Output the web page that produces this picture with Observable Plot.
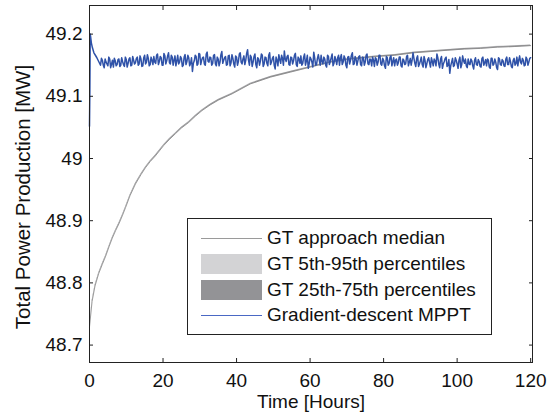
<!DOCTYPE html>
<html><head><meta charset="utf-8">
<script src="https://cdn.jsdelivr.net/npm/d3@7"></script>
<script src="https://cdn.jsdelivr.net/npm/@observablehq/plot@0.6"></script>
<style>
body{margin:0;background:#fff;}
#wrap{position:relative;width:550px;height:419px;font-family:"Liberation Sans",Arial,sans-serif;}
#legend{position:absolute;left:187px;top:218px;width:305px;height:117px;border:1px solid #222;background:#fff;box-sizing:border-box;}
.sw{position:absolute;left:13px;width:61px;}
.lb{position:absolute;left:79px;font-size:19px;white-space:nowrap;line-height:24px;height:24px;color:#111;}
</style></head><body><div id="wrap"></div>
<script>
// Tick values
const xTicks = [0, 20, 40, 60, 80, 100, 120];
const yTicks = [48.7, 48.8, 48.9, 49, 49.1, 49.2];

// GT approach median
const medianT = [0, 0.7, 1.5, 2.5, 3.5, 4.4, 5.3, 6.2, 7.1, 8.0, 9.0, 9.8, 11, 12.5, 14, 15.2, 16.5, 17.9, 20.2, 21.8, 23.4, 25, 27, 28.8, 30.6, 32.8, 35.1, 38.8, 43.8, 49.3, 54.7, 60.1, 65.6, 71, 78.3, 83, 88.2, 92.8, 97.3, 102, 106.4, 111, 115.5, 120];
const medianV = [48.729, 48.770, 48.795, 48.815, 48.830, 48.843, 48.858, 48.872, 48.884, 48.895, 48.909, 48.921, 48.940, 48.959, 48.974, 48.985, 48.995, 49.004, 49.021, 49.031, 49.040, 49.049, 49.058, 49.068, 49.077, 49.086, 49.094, 49.104, 49.120, 49.131, 49.139, 49.147, 49.155, 49.160, 49.164, 49.166, 49.170, 49.172, 49.174, 49.176, 49.177, 49.179, 49.180, 49.1815];

// GT percentile bands (same times as the median)
const p5  = [48.7276, 48.7686, 48.7936, 48.8136, 48.8286, 48.8416, 48.8566, 48.8706, 48.8826, 48.8936, 48.9076, 48.9196, 48.9386, 48.9576, 48.9726, 48.9836, 48.9936, 49.0026, 49.0196, 49.0296, 49.0386, 49.0476, 49.0566, 49.0666, 49.0756, 49.0846, 49.0926, 49.1026, 49.1186, 49.1296, 49.1376, 49.1456, 49.1536, 49.1586, 49.1626, 49.1646, 49.1686, 49.1706, 49.1726, 49.1746, 49.1756, 49.1776, 49.1786, 49.1801];
const p95 = [48.7304, 48.7714, 48.7964, 48.8164, 48.8314, 48.8444, 48.8594, 48.8734, 48.8854, 48.8964, 48.9104, 48.9224, 48.9414, 48.9604, 48.9754, 48.9864, 48.9964, 49.0054, 49.0224, 49.0324, 49.0414, 49.0504, 49.0594, 49.0694, 49.0784, 49.0874, 49.0954, 49.1054, 49.1214, 49.1324, 49.1404, 49.1484, 49.1564, 49.1614, 49.1654, 49.1674, 49.1714, 49.1734, 49.1754, 49.1774, 49.1784, 49.1804, 49.1814, 49.1829];
const p25 = [48.7283, 48.7693, 48.7943, 48.8143, 48.8293, 48.8423, 48.8573, 48.8713, 48.8833, 48.8943, 48.9083, 48.9203, 48.9393, 48.9583, 48.9733, 48.9843, 48.9943, 49.0033, 49.0203, 49.0303, 49.0393, 49.0483, 49.0573, 49.0673, 49.0763, 49.0853, 49.0933, 49.1033, 49.1193, 49.1303, 49.1383, 49.1463, 49.1543, 49.1593, 49.1633, 49.1653, 49.1693, 49.1713, 49.1733, 49.1753, 49.1763, 49.1783, 49.1793, 49.1808];
const p75 = [48.7297, 48.7707, 48.7957, 48.8157, 48.8307, 48.8437, 48.8587, 48.8727, 48.8847, 48.8957, 48.9097, 48.9217, 48.9407, 48.9597, 48.9747, 48.9857, 48.9957, 49.0047, 49.0217, 49.0317, 49.0407, 49.0497, 49.0587, 49.0687, 49.0777, 49.0867, 49.0947, 49.1047, 49.1207, 49.1317, 49.1397, 49.1477, 49.1557, 49.1607, 49.1647, 49.1667, 49.1707, 49.1727, 49.1747, 49.1767, 49.1777, 49.1797, 49.1807, 49.1822];

// Gradient-descent MPPT: start-up transient
const mpptStartT = [0, 0.1, 0.2, 0.3, 0.5, 0.8, 1.2, 1.6, 2.0, 2.5];
const mpptStartV = [49.052, 49.110, 49.200, 49.196, 49.186, 49.178, 49.170, 49.166, 49.162, 49.156];
// samples on the hour and half hour from t = 3 h
const mpptV = [
  49.150,49.158,49.146,49.155,49.149,49.160,49.152,49.147,49.157,49.151,
  49.160,49.150,49.156,49.148,49.159,49.153,49.162,49.150,49.158,49.154,
  49.163,49.152,49.160,49.149,49.166,49.155,49.161,49.151,49.158,49.164,
  49.153,49.168,49.156,49.162,49.150,49.165,49.157,49.170,49.152,49.163,
  49.158,49.149,49.166,49.155,49.161,49.150,49.167,49.156,49.162,49.153,
  49.140,49.157,49.164,49.152,49.168,49.158,49.163,49.150,49.171,49.155,
  49.162,49.153,49.167,49.149,49.160,49.155,49.172,49.158,49.164,49.151,
  49.166,49.154,49.161,49.147,49.163,49.156,49.170,49.152,49.165,49.158,
  49.175,49.150,49.163,49.155,49.168,49.146,49.160,49.157,49.166,49.152,
  49.162,49.149,49.170,49.155,49.164,49.144,49.158,49.167,49.153,49.161,
  49.173,49.156,49.166,49.150,49.162,49.157,49.169,49.148,49.160,49.165,
  49.153,49.168,49.157,49.145,49.163,49.155,49.171,49.150,49.161,49.158,
  49.166,49.152,49.160,49.147,49.164,49.156,49.168,49.153,49.159,49.162,
  49.150,49.167,49.155,49.161,49.146,49.164,49.158,49.170,49.152,49.160,
  49.157,49.165,49.149,49.162,49.155,49.168,49.151,49.159,49.163,49.148,
  49.160,49.155,49.166,49.150,49.158,49.145,49.162,49.153,49.165,49.156,
  49.149,49.160,49.154,49.163,49.147,49.158,49.152,49.166,49.155,49.150,
  49.170,49.153,49.161,49.148,49.157,49.151,49.164,49.146,49.159,49.154,
  49.162,49.149,49.157,49.168,49.152,49.160,49.145,49.156,49.163,49.150,
  49.137,49.155,49.148,49.162,49.152,49.158,49.146,49.165,49.153,49.149,
  49.160,49.151,49.157,49.144,49.162,49.150,49.156,49.147,49.163,49.154,
  49.149,49.158,49.145,49.161,49.152,49.155,49.143,49.160,49.150,49.157,
  49.148,49.163,49.151,49.156,49.146,49.161,49.153,49.149,49.165,49.152,
  49.158,49.150,49.160,49.155,49.162
];
// samples at quarter past / quarter to, from t = 3.25 h
const mpptMidV = [
  49.161,49.150,49.160,49.152,49.163,49.146,49.158,49.161,49.149,49.159,
  49.148,49.162,49.151,49.163,49.147,49.160,49.149,49.164,49.152,49.161,
  49.150,49.165,49.148,49.162,49.152,49.167,49.149,49.163,49.151,49.155,
  49.166,49.151,49.164,49.150,49.169,49.152,49.165,49.154,49.166,49.150,
  49.165,49.157,49.152,49.164,49.148,49.163,49.151,49.166,49.149,49.162,
  49.153,49.166,49.150,49.169,49.151,49.162,49.152,49.168,49.156,49.163,
  49.150,49.166,49.152,49.163,49.149,49.167,49.153,49.162,49.150,49.165,
  49.149,49.167,49.152,49.165,49.150,49.168,49.155,49.160,49.151,49.169,
  49.158,49.166,49.148,49.164,49.151,49.162,49.150,49.168,49.148,49.163,
  49.153,49.166,49.151,49.161,49.150,49.163,49.149,49.159,49.166,49.150,
  49.160,49.164,49.151,49.163,49.152,49.166,49.151,49.163,49.153,49.150,
  49.163,49.150,49.166,49.152,49.160,49.147,49.162,49.151,49.167,49.150,
  49.156,49.163,49.150,49.166,49.151,49.162,49.149,49.164,49.151,49.166,
  49.162,49.151,49.165,49.150,49.163,49.152,49.166,49.151,49.164,49.150,
  49.164,49.151,49.163,49.150,49.166,49.152,49.160,49.149,49.158,49.162,
  49.150,49.166,49.152,49.161,49.149,49.164,49.150,49.163,49.149,49.162,
  49.158,49.150,49.163,49.149,49.160,49.151,49.164,49.149,49.161,49.158,
  49.161,49.148,49.165,49.152,49.163,49.147,49.158,49.152,49.162,49.147,
  49.156,49.160,49.149,49.162,49.146,49.164,49.152,49.161,49.148,49.159,
  49.149,49.161,49.150,49.158,49.145,49.163,49.151,49.157,49.160,49.146,
  49.152,49.160,49.149,49.158,49.151,49.159,49.148,49.161,49.150,49.159,
  49.160,49.147,49.161,49.150,49.160,49.146,49.162,49.151,49.159,49.149,
  49.160,49.151,49.162,49.148,49.158,49.150,49.163,49.158,49.155,49.161,
  49.149,49.163,49.150,49.161
];

// Legend
const legendLabels = ["GT approach median", "GT 5th-95th percentiles", "GT 25th-75th percentiles", "Gradient-descent MPPT"];
const legendColors = ["#9a9a9a", "#d3d3d5", "#939396", "#4a68c4"];
const legendKinds = ["line", "rect", "rect", "line"];

const median = medianT.map((t, i) => ({t, v: medianV[i]}));
const bands = medianT.map((t, i) => ({t, p5: p5[i], p95: p95[i], p25: p25[i], p75: p75[i]}));
const steady = mpptV.map((v, i) => ({t: 3 + i * 0.5, v}))
  .concat(mpptMidV.map((v, i) => ({t: 3.25 + i * 0.5, v})));
steady.sort((a, b) => a.t - b.t);
const mppt = mpptStartT.map((t, i) => ({t, v: mpptStartV[i]})).concat(steady);

const blank = () => "";
const plot = Plot.plot({
  width: 550, height: 419,
  marginLeft: 89, marginRight: 18, marginTop: 5, marginBottom: 57,
  style: {fontFamily: "'Liberation Sans', Arial, sans-serif", fontSize: "19px", color: "#111", background: "white", overflow: "visible"},
  x: {domain: [0, 120.5]},
  y: {domain: [48.672, 49.246]},
  marks: [
    Plot.areaY(bands, {x: "t", y1: "p5", y2: "p95", fill: legendColors[1]}),
    Plot.areaY(bands, {x: "t", y1: "p25", y2: "p75", fill: legendColors[2]}),
    Plot.line(median, {x: "t", y: "v", stroke: "#808080", strokeWidth: 0.8}),
    Plot.line(mppt, {x: "t", y: "v", stroke: "#2f52a8", strokeWidth: 1.5}),
    Plot.axisX(xTicks, {tickSize: 0, tickPadding: 11, label: null, fontSize: 19}),
    Plot.axisX(xTicks, {tickSize: -4, tickFormat: blank, label: null, stroke: "#222"}),
    Plot.axisX(xTicks, {anchor: "top", tickSize: -4, tickFormat: blank, label: null, stroke: "#222"}),
    Plot.axisY(yTicks, {tickSize: 0, tickPadding: 7, label: null, fontSize: 19, tickFormat: d3.format("")}),
    Plot.axisY(yTicks, {tickSize: -4, tickFormat: blank, label: null, stroke: "#222"}),
    Plot.axisY(yTicks, {anchor: "right", tickSize: -4, tickFormat: blank, label: null, stroke: "#222"}),
    Plot.frame({stroke: "#222"}),
    Plot.text(["Time [Hours]"], {frameAnchor: "bottom", lineAnchor: "middle", dy: 39, fontSize: 19, fill: "#111"}),
    Plot.text(["Total Power Production [MW]"], {frameAnchor: "left", textAnchor: "middle", lineAnchor: "middle", dx: -66, dy: 13, rotate: -90, fontSize: 20.5, fill: "#111"})
  ]
});
const wrap = document.getElementById("wrap");
wrap.appendChild(plot);

const legend = document.createElement("div");
legend.id = "legend";
const rowCenters = [19, 45, 71, 96];
legendLabels.forEach((label, i) => {
  const sw = document.createElement("div");
  sw.className = "sw";
  if (legendKinds[i] === "line") {
    sw.style.top = rowCenters[i] + "px";
    sw.style.height = "1px";
  } else {
    sw.style.top = (rowCenters[i] - 10) + "px";
    sw.style.height = "20px";
  }
  sw.style.background = legendColors[i];
  legend.appendChild(sw);
  const lb = document.createElement("div");
  lb.className = "lb";
  lb.style.top = (rowCenters[i] - 12) + "px";
  lb.textContent = label;
  legend.appendChild(lb);
});
wrap.appendChild(legend);
</script>
</body></html>
